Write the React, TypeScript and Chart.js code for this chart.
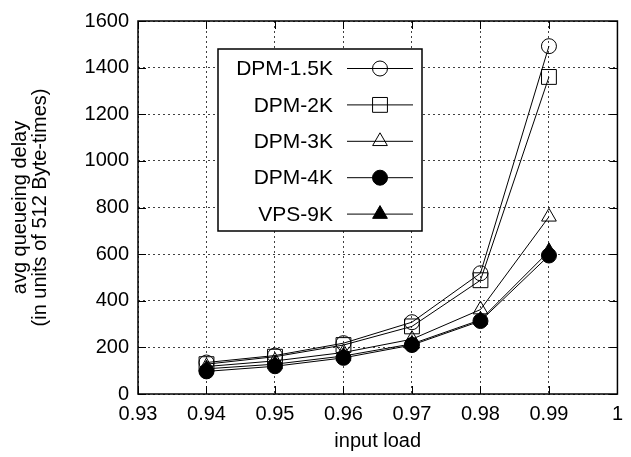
import React, { useEffect, useRef } from 'react';
import { Chart, registerables } from 'chart.js';
import { drawPoint } from 'chart.js/helpers';

Chart.register(...registerables);

// Input load values where each configuration was measured
const loads = [0.94, 0.95, 0.96, 0.97, 0.98, 0.99];

// Average queueing delay (units of 512 Byte-times)
const dpm15k = [135, 165, 218, 308, 518, 1492];
const dpm2k = [128, 160, 210, 290, 488, 1360];
const dpm3k = [118, 142, 178, 235, 362, 760];
const dpm4k = [97, 119, 155, 210, 313, 594];
const vps9k = [108, 128, 163, 215, 318, 612];

const xTicks = [0.93, 0.94, 0.95, 0.96, 0.97, 0.98, 0.99, 1];
const yTicks = [0, 200, 400, 600, 800, 1000, 1200, 1400, 1600];

const FONT = '"Liberation Sans", Arial, Helvetica, sans-serif';

const series = [
  { label: 'DPM-1.5K', data: dpm15k, style: 'circle', radius: 7.5, fill: 'rgba(0,0,0,0)' },
  { label: 'DPM-2K', data: dpm2k, style: 'rect', radius: 10.5, fill: 'rgba(0,0,0,0)' },
  { label: 'DPM-3K', data: dpm3k, style: 'triangle', radius: 8.5, fill: 'rgba(0,0,0,0)' },
  { label: 'DPM-4K', data: dpm4k, style: 'circle', radius: 7.5, fill: '#000' },
  { label: 'VPS-9K', data: vps9k, style: 'triangle', radius: 8.5, fill: '#000' },
];

// Solid frame around the plot with inward tick marks on all four sides
const framePlugin = {
  id: 'frame',
  afterDatasetsDraw(chart: any) {
    const { ctx, chartArea, scales } = chart;
    const { left, right, top, bottom } = chartArea;
    const len = 8;
    ctx.save();
    ctx.strokeStyle = '#000';
    ctx.lineWidth = 1;
    ctx.beginPath();
    xTicks.forEach((v) => {
      const x = Math.round(scales.x.getPixelForValue(v)) + 0.5;
      ctx.moveTo(x, bottom);
      ctx.lineTo(x, bottom - len);
      ctx.moveTo(x, top);
      ctx.lineTo(x, top + len);
    });
    yTicks.forEach((v) => {
      const y = Math.round(scales.y.getPixelForValue(v)) + 0.5;
      ctx.moveTo(left, y);
      ctx.lineTo(left + len, y);
      ctx.moveTo(right, y);
      ctx.lineTo(right - len, y);
    });
    ctx.stroke();
    ctx.lineWidth = 1.5;
    ctx.strokeRect(left, top, right - left, bottom - top);
    ctx.restore();
  },
};

// Key box: label on the left, line sample with marker on the right
const keyPlugin = {
  id: 'keyBox',
  afterDraw(chart: any) {
    const { ctx, chartArea } = chart;
    const bx = chartArea.left + 80;
    const by = chartArea.top + 28;
    const bw = 204;
    const bh = 182;
    ctx.save();
    ctx.fillStyle = '#fff';
    ctx.fillRect(bx, by, bw, bh);
    ctx.strokeStyle = '#000';
    ctx.lineWidth = 1.5;
    ctx.strokeRect(bx, by, bw, bh);
    ctx.font = `21px ${FONT}`;
    ctx.textAlign = 'right';
    ctx.textBaseline = 'middle';
    chart.data.datasets.forEach((ds: any, i: number) => {
      const y = by + 19.5 + i * 36.4;
      ctx.fillStyle = '#000';
      ctx.fillText(ds.label, bx + 115, y + 1);
      ctx.strokeStyle = '#000';
      ctx.lineWidth = 1;
      ctx.beginPath();
      ctx.moveTo(bx + 129, y);
      ctx.lineTo(bx + 195, y);
      ctx.stroke();
      ctx.fillStyle = ds.pointBackgroundColor;
      drawPoint(
        ctx,
        { pointStyle: ds.pointStyle, radius: ds.pointRadius, borderWidth: 1, rotation: 0 } as any,
        bx + 162,
        y
      );
    });
    ctx.restore();
  },
};

export default function App() {
  const canvasRef = useRef<HTMLCanvasElement | null>(null);

  useEffect(() => {
    if (!canvasRef.current) return;
    const chart = new Chart(canvasRef.current, {
      type: 'line',
      data: {
        datasets: series.map((s) => ({
          label: s.label,
          data: loads.map((x, i) => ({ x, y: s.data[i] })),
          borderColor: '#000',
          borderWidth: 1,
          pointStyle: s.style as any,
          pointRadius: s.radius,
          pointBorderWidth: 1,
          pointBorderColor: '#000',
          pointBackgroundColor: s.fill,
          backgroundColor: s.fill,
          tension: 0,
          fill: false,
        })),
      },
      options: {
        responsive: false,
        animation: false,
        events: [],
        layout: { padding: { top: 19, left: 0, right: 0, bottom: 0 } },
        plugins: {
          legend: { display: false },
          tooltip: { enabled: false },
        },
        scales: {
          x: {
            type: 'linear',
            min: 0.93,
            max: 1,
            afterBuildTicks: (scale: any) => {
              scale.ticks = xTicks.map((value) => ({ value }));
            },
            afterFit: (scale: any) => {
              scale.height = 63;
            },
            ticks: {
              color: '#000',
              font: { family: FONT, size: 20 },
              padding: 8,
              maxRotation: 0,
              callback: (v: any) => String(Number(Number(v).toFixed(2))),
            },
            grid: { color: 'rgba(0,0,0,0.75)', lineWidth: 1, drawTicks: false },
            border: { display: false, dash: [2, 3] },
            title: {
              display: true,
              text: 'input load',
              color: '#000',
              font: { family: FONT, size: 20 },
              padding: { top: 0, bottom: 4 },
            },
          },
          y: {
            type: 'linear',
            min: 0,
            max: 1600,
            afterBuildTicks: (scale: any) => {
              scale.ticks = yTicks.map((value) => ({ value }));
            },
            afterFit: (scale: any) => {
              scale.width = 138;
            },
            ticks: {
              color: '#000',
              font: { family: FONT, size: 20 },
              padding: 9,
              callback: (v: any) => String(v),
            },
            grid: { color: 'rgba(0,0,0,0.75)', lineWidth: 1, drawTicks: false },
            border: { display: false, dash: [2, 3] },
            title: {
              display: true,
              text: ['avg queueing delay', '(in units of 512 Byte-times)'],
              color: '#000',
              font: { family: FONT, size: 20, lineHeight: 1.0 },
              padding: { top: 10, bottom: 0 },
            },
          },
        },
      },
      plugins: [framePlugin, keyPlugin],
    });
    return () => chart.destroy();
  }, []);

  return (
    <div style={{ position: 'fixed', left: 0, top: 0, width: 631, height: 457, background: '#fff', overflow: 'hidden' }}>
      <canvas ref={canvasRef} width={631} height={457} style={{ display: 'block' }} />
    </div>
  );
}
